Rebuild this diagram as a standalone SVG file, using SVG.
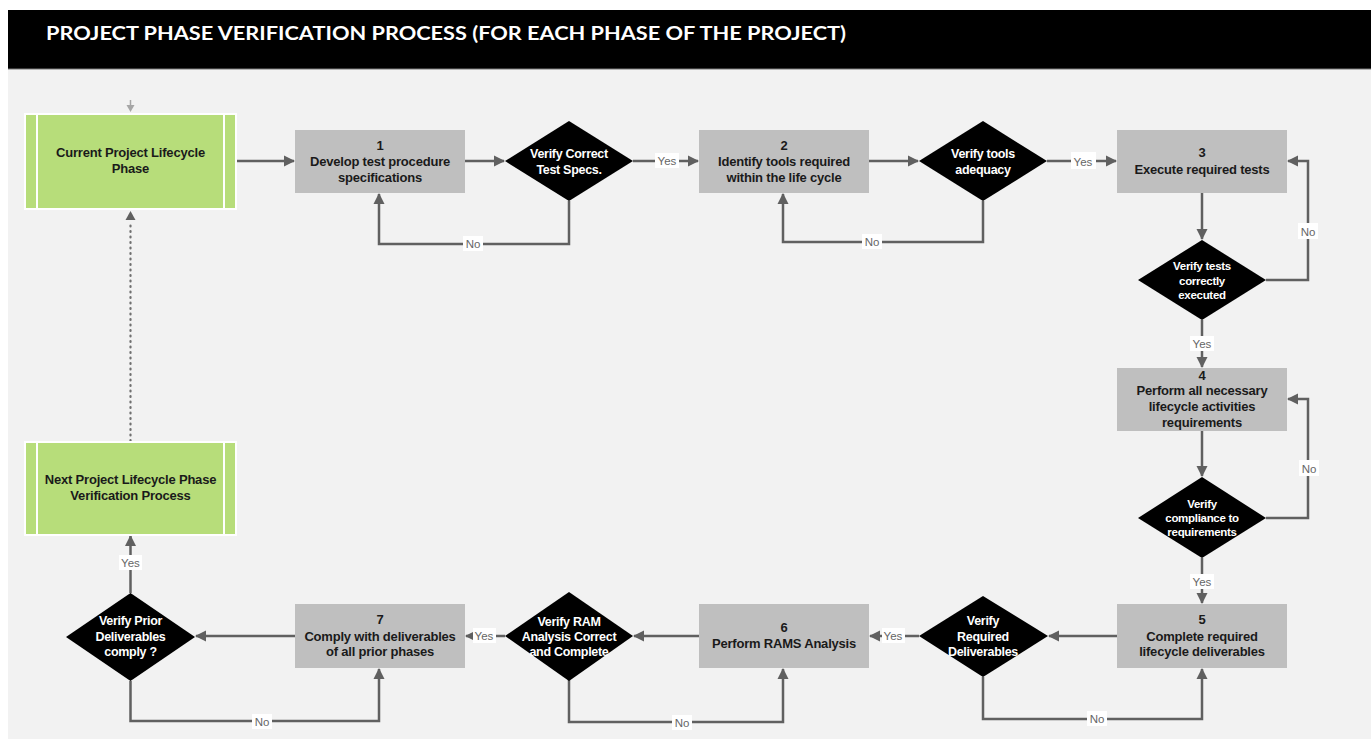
<svg xmlns="http://www.w3.org/2000/svg" width="1371" height="739" viewBox="0 0 1371 739">
<defs>
<marker id="ah" markerUnits="userSpaceOnUse" markerWidth="12" markerHeight="12" refX="10" refY="6" orient="auto">
<path d="M0,0.5 L11,6 L0,11.5 Z" fill="#606060"/>
</marker>
<style>
.bg{fill:#f2f2f2}
.proc{fill:#bfbfbf}
.term{fill:#b7dd7a;stroke:#ffffff;stroke-width:2}
.sep{stroke:#ffffff;stroke-width:2}
.dec{fill:#000000}
.pt{font-family:"Liberation Sans",Arial,sans-serif;font-weight:bold;font-size:13px;fill:#1a1a1a;text-anchor:middle;letter-spacing:-0.2px}
.dt{font-family:"Liberation Sans",Arial,sans-serif;font-weight:bold;font-size:12.5px;fill:#ffffff;text-anchor:middle;letter-spacing:-0.3px}
.dts{font-size:11.5px}
.c{fill:none;stroke:#606060;stroke-width:2.5}
.ca{fill:none;stroke:#606060;stroke-width:2.5;marker-end:url(#ah)}
.lb{fill:#ffffff}
.lt{font-family:"Liberation Sans",Arial,sans-serif;font-size:11.5px;fill:#666666;text-anchor:middle}
</style>
</defs>
<rect x="0" y="0" width="1371" height="739" fill="#ffffff"/>
<rect class="bg" x="8" y="69" width="1363" height="670"/>
<g id="header">
<rect x="8" y="10" width="1363" height="59" fill="#000000"/>
<line x1="8" y1="69" x2="1371" y2="69" stroke="#777777" stroke-width="1.2"/>
<text x="46" y="39.5" font-family="Lato, 'Liberation Sans', sans-serif" font-weight="bold" font-size="19.5" fill="#ffffff" textLength="800" lengthAdjust="spacingAndGlyphs">PROJECT PHASE VERIFICATION PROCESS (FOR EACH PHASE OF THE PROJECT)</text>
</g>

<g id="connectors">
<line x1="130.5" y1="100" x2="130.5" y2="106" stroke="#a6a6a6" stroke-width="1.5"/>
<path d="M126.5,105 L134.5,105 L130.5,112 Z" fill="#a6a6a6"/>
<line x1="130.5" y1="441" x2="130.5" y2="222" stroke="#707070" stroke-width="2.2" stroke-dasharray="1 4.5" stroke-linecap="round"/>
<path d="M125.5,220 L135.5,220 L130.5,211 Z" fill="#606060"/>
<line class="ca" x1="237" y1="161" x2="294" y2="161"/>
<line class="ca" x1="465" y1="161" x2="504" y2="161"/>
<line class="ca" x1="633" y1="161" x2="698" y2="161"/>
<polyline class="ca" points="569,201 569,244 379,244 379,194"/>
<line class="ca" x1="869" y1="161" x2="918" y2="161"/>
<polyline class="ca" points="983,201 983,242 783,242 783,194"/>
<line class="ca" x1="1047" y1="161" x2="1116" y2="161"/>
<line class="ca" x1="1202" y1="193" x2="1202" y2="239"/>
<polyline class="ca" points="1266,280 1308,280 1308,161 1288,161"/>
<line class="ca" x1="1202" y1="320" x2="1202" y2="367"/>
<line class="ca" x1="1202" y1="431" x2="1202" y2="476"/>
<polyline class="ca" points="1266,518 1308,518 1308,399 1288,399"/>
<line class="ca" x1="1202" y1="558" x2="1202" y2="603"/>
<line class="ca" x1="1117" y1="636" x2="1049" y2="636"/>
<polyline class="ca" points="983,677 983,719 1202,719 1202,669"/>
<line class="ca" x1="919" y1="636" x2="870" y2="636"/>
<line class="ca" x1="699" y1="636" x2="634" y2="636"/>
<polyline class="ca" points="569,680 569,722 783,722 783,669"/>
<line class="ca" x1="505" y1="636" x2="466" y2="636"/>
<line class="ca" x1="295" y1="636" x2="196" y2="636"/>
<polyline class="ca" points="130.5,681 130.5,721 379,721 379,669"/>
<line class="ca" x1="130.5" y1="593" x2="130.5" y2="536"/>
<rect class="lb" x="463" y="236" width="20" height="15"/><text class="lt" x="473" y="248">No</text>
<rect class="lb" x="655" y="153" width="24" height="15"/><text class="lt" x="667" y="165">Yes</text>
<rect class="lb" x="862" y="234" width="20" height="15"/><text class="lt" x="872" y="246">No</text>
<rect class="lb" x="1071" y="152" width="25" height="17"/><text class="lt" x="1083" y="166" font-size="13.5">Yes</text>
<rect class="lb" x="1298" y="223" width="20" height="16"/><text class="lt" x="1308" y="235.5">No</text>
<rect class="lb" x="1190" y="336" width="24" height="15"/><text class="lt" x="1202" y="348">Yes</text>
<rect class="lb" x="1299" y="460" width="20" height="16"/><text class="lt" x="1309" y="472.5">No</text>
<rect class="lb" x="1190" y="574" width="24" height="15"/><text class="lt" x="1202" y="586">Yes</text>
<rect class="lb" x="1087" y="711" width="20" height="15"/><text class="lt" x="1097" y="723">No</text>
<rect class="lb" x="882" y="628" width="23" height="15"/><text class="lt" x="893" y="640">Yes</text>
<rect class="lb" x="672" y="715" width="20" height="15"/><text class="lt" x="682" y="727">No</text>
<rect class="lb" x="473" y="628" width="23" height="15"/><text class="lt" x="484" y="640">Yes</text>
<rect class="lb" x="252" y="714" width="20" height="15"/><text class="lt" x="262" y="726">No</text>
<rect class="lb" x="119" y="555" width="23" height="15"/><text class="lt" x="130.5" y="567">Yes</text>
</g>

<g id="current-phase">
<rect class="term" x="25" y="114" width="211" height="95"/>
<line class="sep" x1="37" y1="114" x2="37" y2="209"/>
<line class="sep" x1="224" y1="114" x2="224" y2="209"/>
<text class="pt" x="130.5" y="157">Current Project Lifecycle</text>
<text class="pt" x="130.5" y="173">Phase</text>
</g>

<g id="step1">
<rect class="proc" x="295" y="130" width="170" height="63"/>
<text class="pt" x="380" y="150">1</text>
<text class="pt" x="380" y="166">Develop test procedure</text>
<text class="pt" x="380" y="182">specifications</text>
</g>

<g id="verify-specs">
<polygon class="dec" points="569,121 633,161 569,201 505,161"/>
<text class="dt" x="569" y="158">Verify Correct</text>
<text class="dt" x="569" y="174">Test Specs.</text>
</g>

<g id="step2">
<rect class="proc" x="699" y="130" width="170" height="63"/>
<text class="pt" x="784" y="150">2</text>
<text class="pt" x="784" y="166">Identify tools required</text>
<text class="pt" x="784" y="182">within the life cycle</text>
</g>

<g id="verify-tools">
<polygon class="dec" points="983,121 1047,161 983,201 919,161"/>
<text class="dt" x="983" y="158">Verify tools</text>
<text class="dt" x="983" y="174">adequacy</text>
</g>

<g id="step3">
<rect class="proc" x="1117" y="130" width="170" height="63"/>
<text class="pt" x="1202" y="157">3</text>
<text class="pt" x="1202" y="174">Execute required tests</text>
</g>

<g id="verify-tests">
<polygon class="dec" points="1202,240 1266,280 1202,320 1138,280"/>
<text class="dt dts" x="1202" y="270">Verify tests</text>
<text class="dt dts" x="1202" y="285">correctly</text>
<text class="dt dts" x="1202" y="299">executed</text>
</g>

<g id="step4">
<rect class="proc" x="1117" y="368" width="170" height="63"/>
<text class="pt" x="1202" y="380">4</text>
<text class="pt" x="1202" y="395">Perform all necessary</text>
<text class="pt" x="1202" y="411">lifecycle activities</text>
<text class="pt" x="1202" y="427">requirements</text>
</g>

<g id="verify-compliance">
<polygon class="dec" points="1202,477 1266,518 1202,558 1138,518"/>
<text class="dt dts" x="1202" y="508">Verify</text>
<text class="dt dts" x="1202" y="522">compliance to</text>
<text class="dt dts" x="1202" y="536">requirements</text>
</g>

<g id="step5">
<rect class="proc" x="1117" y="604" width="170" height="64"/>
<text class="pt" x="1202" y="624">5</text>
<text class="pt" x="1202" y="641">Complete required</text>
<text class="pt" x="1202" y="656">lifecycle deliverables</text>
</g>

<g id="verify-deliverables">
<polygon class="dec" points="983,596 1048,636 983,677 919,636"/>
<text class="dt" x="983" y="625">Verify</text>
<text class="dt" x="983" y="641">Required</text>
<text class="dt" x="983" y="656">Deliverables</text>
</g>

<g id="step6">
<rect class="proc" x="699" y="604" width="170" height="64"/>
<text class="pt" x="784" y="632">6</text>
<text class="pt" x="784" y="648">Perform RAMS Analysis</text>
</g>

<g id="verify-ram">
<polygon class="dec" points="569,592 633,636 569,681 505,636"/>
<text class="dt" x="569" y="626">Verify RAM</text>
<text class="dt" x="569" y="641">Analysis Correct</text>
<text class="dt" x="569" y="656">and Complete</text>
</g>

<g id="step7">
<rect class="proc" x="295" y="604" width="170" height="64"/>
<text class="pt" x="380" y="624">7</text>
<text class="pt" x="380" y="641">Comply with deliverables</text>
<text class="pt" x="380" y="656">of all prior phases</text>
</g>

<g id="verify-prior">
<polygon class="dec" points="130.5,593 195,637 130.5,681 66,637"/>
<text class="dt" x="130.5" y="625">Verify Prior</text>
<text class="dt" x="130.5" y="641">Deliverables</text>
<text class="dt" x="130.5" y="656">comply ?</text>
</g>

<g id="next-phase">
<rect class="term" x="25" y="442" width="211" height="93"/>
<line class="sep" x1="37" y1="442" x2="37" y2="535"/>
<line class="sep" x1="224" y1="442" x2="224" y2="535"/>
<text class="pt" x="130.5" y="484">Next Project Lifecycle Phase</text>
<text class="pt" x="130.5" y="500">Verification Process</text>
</g>
</svg>
